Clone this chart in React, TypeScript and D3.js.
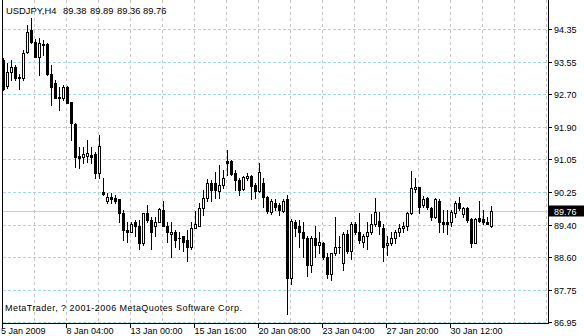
import React from "react";
import * as d3 from "d3";

const symbolLabel = "USDJPY,H4";
const headerValues = ["89.38", "89.89", "89.36", "89.76"];
const copyright = "MetaTrader, ? 2001-2006 MetaQuotes Software Corp.";

const openP = [93.57,92.92,93.27,93.39,93.14,93.12,93.77,94.32,94.02,93.65,93.95,93.97,93.22,92.99,92.64,92.61,92.89,92.51,91.96,91.15,
  91.13,91.15,91.18,91.20,90.73,90.25,90.00,90.12,90.10,90.05,89.72,89.29,89.22,89.47,89.39,88.96,89.72,89.54,89.37,89.49,
  89.79,89.37,89.19,89.24,89.09,89.12,89.02,88.84,89.34,89.39,89.84,90.10,90.47,90.47,90.27,90.42,91.03,91.03,90.73,90.55,
  90.32,90.60,90.65,90.42,90.27,90.47,90.12,89.74,89.97,89.92,89.77,90.05,88.08,89.49,89.37,89.22,89.09,88.41,89.07,88.91,
  88.96,88.59,88.16,88.69,88.86,88.46,89.19,88.74,89.44,89.24,88.99,89.12,89.22,89.44,89.52,89.34,88.89,88.96,89.09,89.22,
  89.34,89.37,89.72,90.32,90.37,89.90,90.10,89.84,89.62,90.02,89.47,89.47,89.47,89.72,89.95,89.69,89.84,89.57,88.96,89.59,
  89.57,89.47,89.38];
const highP = [93.62,93.49,93.57,93.44,93.22,93.82,94.45,94.63,94.10,94.12,94.07,94.00,93.44,93.07,92.89,92.94,92.92,92.51,91.98,91.38,
  91.38,91.56,91.38,91.25,91.68,90.60,90.22,90.22,90.17,90.05,89.79,89.49,89.49,89.54,89.54,89.72,89.92,89.62,89.62,89.84,
  90.00,89.47,89.47,89.29,89.22,89.12,89.29,89.47,89.77,89.97,90.30,90.57,90.55,90.75,90.93,90.80,91.30,91.05,90.80,90.60,
  90.65,90.73,90.68,90.47,90.98,90.60,90.15,90.05,90.05,89.97,90.05,90.17,89.57,89.54,89.54,89.47,89.12,89.12,89.37,89.24,
  88.99,88.71,88.71,89.62,89.12,89.22,89.29,89.47,89.47,89.72,89.17,89.49,89.69,90.10,89.74,89.42,89.12,89.24,89.29,89.42,
  89.47,89.74,90.78,90.60,90.37,90.15,90.12,89.87,90.10,90.07,89.79,89.79,89.79,90.00,90.12,89.87,89.87,89.59,89.59,90.00,
  89.79,89.62,89.89];
const lowP = [92.81,92.87,93.07,93.07,92.84,93.07,93.75,94.00,93.65,93.19,93.70,93.19,92.44,92.61,92.31,92.56,92.49,91.56,90.88,90.85,
  90.98,91.00,90.98,90.60,90.60,90.17,89.97,89.97,89.97,89.49,89.04,88.99,89.22,89.12,88.79,88.91,89.49,88.79,89.12,89.49,
  89.37,88.99,88.61,88.86,88.79,88.74,88.49,88.79,89.32,89.39,89.67,90.00,90.00,90.10,90.10,90.35,90.68,90.68,90.30,90.17,
  90.30,90.55,90.05,90.10,90.25,89.87,89.72,89.69,89.79,89.67,89.74,87.15,87.91,89.12,88.86,88.61,88.11,88.23,88.59,88.71,
  88.54,88.08,88.03,88.66,88.71,88.28,88.71,88.54,89.17,88.96,88.86,88.79,89.17,89.39,89.17,88.49,88.66,88.91,88.96,89.12,
  89.22,89.29,89.69,90.25,89.72,89.87,89.82,89.54,89.59,89.22,89.24,89.17,89.37,89.62,89.79,89.62,89.49,88.84,88.94,89.49,
  89.44,89.42,89.36];
const closeP = [92.84,93.27,93.39,93.12,93.12,93.75,94.27,94.02,93.65,94.00,93.97,93.22,92.89,92.61,92.61,92.89,92.49,91.98,91.13,91.10,
  91.20,91.23,91.13,90.73,91.41,90.20,90.12,90.05,90.00,89.72,89.27,89.24,89.44,89.37,88.96,89.72,89.54,89.24,89.47,89.82,
  89.37,89.22,89.22,89.04,89.07,88.99,88.84,89.34,89.44,89.84,90.10,90.47,90.30,90.30,90.42,90.60,90.98,90.70,90.55,90.30,
  90.62,90.65,90.40,90.27,90.75,90.12,89.77,90.02,89.87,89.79,90.02,88.08,89.52,89.32,89.22,89.09,88.41,89.09,88.91,88.99,
  88.59,88.16,88.71,88.86,88.84,89.17,88.74,89.44,89.22,89.02,89.12,89.24,89.44,89.74,89.39,88.84,88.96,89.09,89.22,89.34,
  89.39,89.72,90.35,90.37,89.87,90.05,89.87,89.62,90.05,89.49,89.44,89.44,89.74,89.97,89.84,89.84,89.54,88.96,89.57,89.52,
  89.47,89.44,89.76];

const priceTickLabels = ["94.35","93.55","92.70","91.90","91.05","90.25","89.40","88.60","87.75","86.95"];
const timeLabels = ["5 Jan 2009","8 Jan 04:00","13 Jan 00:00","15 Jan 16:00","20 Jan 08:00","23 Jan 04:00","27 Jan 20:00","30 Jan 12:00"];
const lastPrice = 89.76;
const lastPriceLabel = "89.76";

const W = 584, H = 336;
const plotRight = 548;
const plotBottom = 323;
const FONT = "'Liberation Sans', Arial, sans-serif";

export default function App() {
  const n = closeP.length;
  const x = d3.scaleLinear().domain([0, n - 1]).range([3, 3 + 4 * (n - 1)]);
  const topVal = 94.35, botVal = 86.95;
  const y = d3.scaleLinear().domain([botVal, topVal]).range([322.4, 29]);
  const step = (topVal - botVal) / (priceTickLabels.length - 1);
  const tickVals = d3.range(priceTickLabels.length).map((k) => topVal - k * step);

  const vGrid = d3.range(0, n + 40, 8).map((i) => Math.round(x(i)) - 0.5).filter((v) => v > 3 && v < plotRight - 1);
  const timeTicks = timeLabels.map((_, j) => Math.round(x(j * 16)) - 0.5);

  const candles = closeP.map((c, i) => {
    const o = openP[i];
    const cx = Math.round(x(i));
    const yo = Math.round(y(o));
    const yc = Math.round(y(c));
    const yh = Math.round(y(highP[i]));
    const yl = Math.round(y(lowP[i]));
    const top = Math.min(yo, yc);
    const bot = Math.max(yo, yc);
    const up = c >= o;
    return (
      <g key={i}>
        <line x1={cx + 0.5} x2={cx + 0.5} y1={yh} y2={yl + 1} stroke="#000" strokeWidth={1} />
        {bot - top >= 1 ? (
          <rect x={cx - 0.5} y={top + 0.5} width={2} height={bot - top} fill={up ? "#fff" : "#000"} stroke="#000" strokeWidth={1} />
        ) : (
          <line x1={cx - 1} x2={cx + 2} y1={top + 0.5} y2={top + 0.5} stroke="#000" strokeWidth={1} />
        )}
      </g>
    );
  });

  const yLast = Math.round(y(lastPrice)) + 0.5;
  const headerX = [63, 90, 117, 143];

  return (
    <svg width={W} height={H} style={{ position: "absolute", left: 0, top: 0, background: "#fff" }} fontFamily={FONT}>
      <rect x={0} y={0} width={W} height={H} fill="#fff" />
      {vGrid.map((gx, k) => (
        <line key={"vg" + k} x1={gx} x2={gx} y1={0} y2={plotBottom} stroke="#c4c4c4" strokeDasharray="3,3" strokeWidth={1} />
      ))}
      {tickVals.map((v, k) => {
        const ty = Math.round(y(v)) + 0.5;
        return (
          <line key={"hg" + k} x1={3} x2={plotRight} y1={ty} y2={ty} stroke="#9fdcdc" strokeDasharray="3,2" strokeWidth={1} />
        );
      })}
      <line x1={3} x2={plotRight} y1={yLast} y2={yLast} stroke="#9fe0e0" strokeWidth={1} />
      {candles}
      <line x1={2.5} x2={2.5} y1={0} y2={plotBottom + 1} stroke="#000" />
      <line x1={plotRight + 0.5} x2={plotRight + 0.5} y1={0} y2={plotBottom + 1} stroke="#000" />
      <line x1={2} x2={plotRight + 1} y1={plotBottom + 0.5} y2={plotBottom + 0.5} stroke="#000" />
      {tickVals.map((v, k) => {
        const ty = Math.round(y(v)) + 0.5;
        return (
          <g key={"pt" + k}>
            <line x1={plotRight} x2={plotRight + 4} y1={ty} y2={ty} stroke="#000" />
            <text x={554} y={ty} dy="0.35em" fontSize={9} fill="#000">{priceTickLabels[k]}</text>
          </g>
        );
      })}
      <rect x={549} y={yLast - 6} width={35} height={11} fill="#000" />
      <text x={554} y={yLast} dy="0.35em" fontSize={9} fill="#fff">{lastPriceLabel}</text>
      {timeTicks.map((tx, j) => (
        <g key={"tt" + j}>
          <line x1={tx} x2={tx} y1={plotBottom} y2={plotBottom + 5} stroke="#000" />
          <text x={j === 0 ? 1 : tx} y={334} fontSize={9} fill="#000">{timeLabels[j]}</text>
        </g>
      ))}
      <text x={6} y={14} fontSize={9.4} fill="#000">{symbolLabel}</text>
      {headerValues.map((hv, k) => (
        <text key={"hv" + k} x={headerX[k]} y={14} fontSize={9.4} fill="#000">{hv}</text>
      ))}
      <text x={5} y={311} fontSize={9} letterSpacing={0.45} fill="#000">{copyright}</text>
    </svg>
  );
}
